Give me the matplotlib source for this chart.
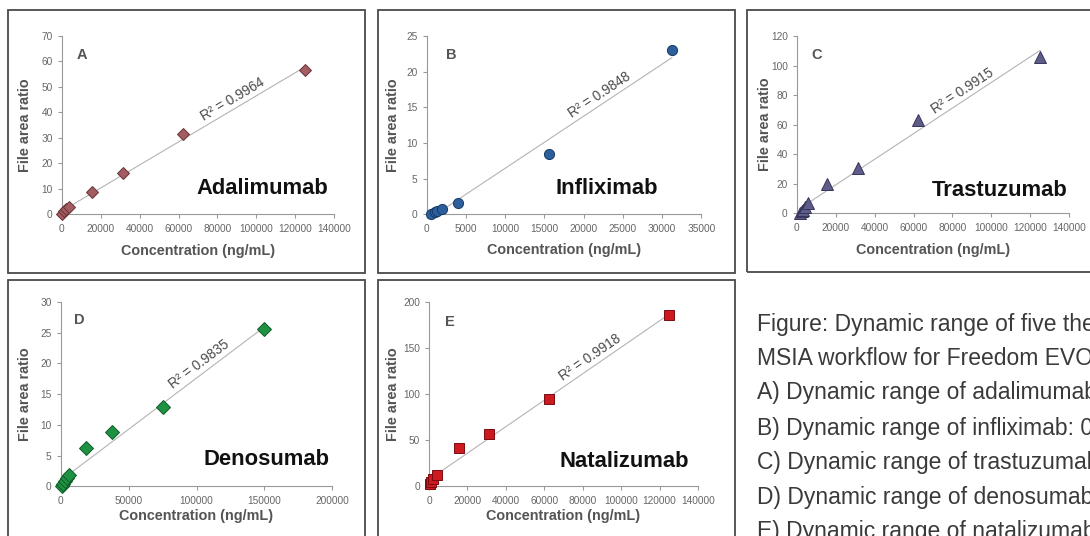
import numpy as np
import matplotlib.pyplot as plt
from matplotlib.patches import Rectangle

# panel data
names = ["Adalimumab", "Infliximab", "Trastuzumab", "Denosumab", "Natalizumab"]
letters = ["A", "B", "C", "D", "E"]
r2_vals = ["0.9964", "0.9848", "0.9915", "0.9835", "0.9918"]

conc_a = [300, 977, 1953, 3906, 15625, 31250, 62500, 125000]
ratio_a = [0.1, 1.1, 2.0, 2.9, 8.9, 16.2, 31.6, 56.6]

conc_b = [600, 1000, 1250, 2000, 4000, 15625, 31250]
ratio_b = [0.1, 0.3, 0.45, 0.8, 1.6, 8.5, 23.0]

conc_c = [1700, 2500, 3400, 4300, 5600, 15625, 31250, 62500, 125000]
ratio_c = [0.5, 1.5, 2.5, 4.0, 7.2, 19.6, 30.9, 63.0, 106.0]

conc_d = [700, 2000, 3200, 4400, 6100, 18750, 37500, 75000, 150000]
ratio_d = [0.1, 0.4, 0.9, 1.3, 1.9, 6.2, 8.8, 12.9, 25.6]

conc_e = [400, 1200, 2100, 4200, 15625, 31250, 62500, 125000]
ratio_e = [3.0, 5.0, 8.0, 12.0, 41.5, 56.5, 94.5, 186.0]

x_max = [140000, 35000, 140000, 200000, 140000]
x_step = [20000, 5000, 20000, 50000, 20000]
y_max = [70, 25, 120, 30, 200]
y_step = [10, 5, 20, 5, 50]

captions = [
    "Figure: Dynamic range of five therapeutic",
    "MSIA workflow for Freedom EVO",
    "A) Dynamic range of adalimumab",
    "B) Dynamic range of infliximab: 0",
    "C) Dynamic range of trastuzumab",
    "D) Dynamic range of denosumab",
    "E) Dynamic range of natalizumab",
]

concs = [conc_a, conc_b, conc_c, conc_d, conc_e]
ratios = [ratio_a, ratio_b, ratio_c, ratio_d, ratio_e]

# marker looks
markers = ["D", "o", "^", "D", "s"]
msizes = [6.3, 7.3, 8, 6.8, 6.8]
fcolors = ["#a25c62", "#2c5f9c", "#5e5c88", "#1f9142", "#cc1a20"]
ecolors = ["#6a3438", "#173a66", "#36345a", "#0f5c28", "#7a0a0e"]

# layout in pixels (left, right, top, bottom)
W, H = 1090, 536
ax_px = [(61.7, 334.3, 36, 214.3), (426.7, 701.3, 36, 214.3), (796.7, 1069.3, 36, 213.3),
         (60.7, 332.3, 302, 486.3), (429, 698, 302.3, 486.3)]
box_px = [(8, 10, 365, 273), (378, 10, 735, 273), (747, 10, 1100, 272),
          (8, 280, 365, 546), (378, 280, 735, 546)]
ylab_x = [25, 393, 765, 25, 393]
xlab_dy = [37, 36, 37, 30, 30]
name_pos = [(0.737, 0.146), (0.657, 0.146), (0.746, 0.131), (0.756, 0.144), (0.727, 0.136)]
letter_pos = [(0.074, 0.893), (0.089, 0.893), (0.074, 0.893), (0.067, 0.904), (0.077, 0.895)]
r2_x = [90000, 22700, 87500, 106000, 86400]

sans = ["Liberation Sans", "DejaVu Sans"]

fig = plt.figure(figsize=(10.9, 5.36), dpi=100)

for (l, t, r, b) in box_px:
    fig.patches.append(Rectangle((l / W, 1 - b / H), (r - l) / W, (b - t) / H,
                                 transform=fig.transFigure, fill=False,
                                 edgecolor="#4a4a4a", linewidth=1.3, clip_on=False))

for i in range(5):
    l, r, t, b = ax_px[i]
    ax = fig.add_axes([l / W, 1 - b / H, (r - l) / W, (b - t) / H])
    ax.patch.set_alpha(0)
    for s in ["top", "right"]:
        ax.spines[s].set_visible(False)
    for s in ["left", "bottom"]:
        ax.spines[s].set_color("#999999")
        ax.spines[s].set_linewidth(0.8)

    ax.set_xlim(0, x_max[i])
    ax.set_ylim(0, y_max[i])
    ax.set_xticks(np.arange(0, x_max[i] + 1, x_step[i]))
    ax.set_yticks(np.arange(0, y_max[i] + 1, y_step[i]))
    ax.tick_params(direction="out", length=3, width=0.8, color="#999999",
                   labelcolor="#666666", labelsize=7.3)
    ax.tick_params(axis="x", pad=4)
    ax.tick_params(axis="y", pad=3.5)
    for lab in ax.get_xticklabels() + ax.get_yticklabels():
        lab.set_family(sans)

    x = np.array(concs[i], dtype=float)
    y = np.array(ratios[i], dtype=float)

    # linear trendline over the data range
    k, c0 = np.polyfit(x, y, 1)
    xl = np.array([x.min(), x.max()])
    ax.plot(xl, k * xl + c0, color="#b4b4b4", linewidth=0.8, zorder=2)

    ax.plot(x, y, linestyle="none", marker=markers[i], markersize=msizes[i],
            markerfacecolor=fcolors[i], markeredgecolor=ecolors[i],
            markeredgewidth=0.7, zorder=3, clip_on=False)

    # R^2 label along the line
    p0 = ax.transData.transform((xl[0], k * xl[0] + c0))
    p1 = ax.transData.transform((xl[1], k * xl[1] + c0))
    ang = np.arctan2(p1[1] - p0[1], p1[0] - p0[0])
    off = 6.5
    ax.annotate("R² = " + r2_vals[i], xy=(r2_x[i], k * r2_x[i] + c0),
                xytext=(-np.sin(ang) * off, np.cos(ang) * off), textcoords="offset points",
                rotation=np.degrees(ang), rotation_mode="anchor", ha="center", va="center",
                fontsize=9.8, color="#4a4a4a", family=sans)

    ax.text(letter_pos[i][0], letter_pos[i][1], letters[i], transform=ax.transAxes,
            fontsize=10.5, fontweight="bold", color="#555555", family=sans,
            ha="center", va="center")
    ax.text(name_pos[i][0], name_pos[i][1], names[i], transform=ax.transAxes,
            fontsize=15.8, fontweight="bold", color="#111111", family=sans,
            ha="center", va="center")

    ax.set_xlabel("Concentration (ng/mL)", fontsize=10.4, fontweight="bold",
                  color="#555555", family=sans)
    ax.set_ylabel("File area ratio", fontsize=10.4, fontweight="bold",
                  color="#555555", family=sans)
    ax.xaxis.label.set_va("center")
    ax.yaxis.label.set_va("center")
    ax.xaxis.set_label_coords(0.5, -xlab_dy[i] / (b - t))
    ax.yaxis.set_label_coords((ylab_x[i] - l) / (r - l), 0.5)

# caption on the right
cap_y = [324.7, 358.7, 393, 428, 463, 497.3, 531.3]
for txt, yy in zip(captions, cap_y):
    fig.text(757.3 / W, 1 - yy / H, txt, fontsize=16.5, color="#3a3a3a",
             family=sans, ha="left", va="center")

fig.savefig("out.png", dpi=100)
